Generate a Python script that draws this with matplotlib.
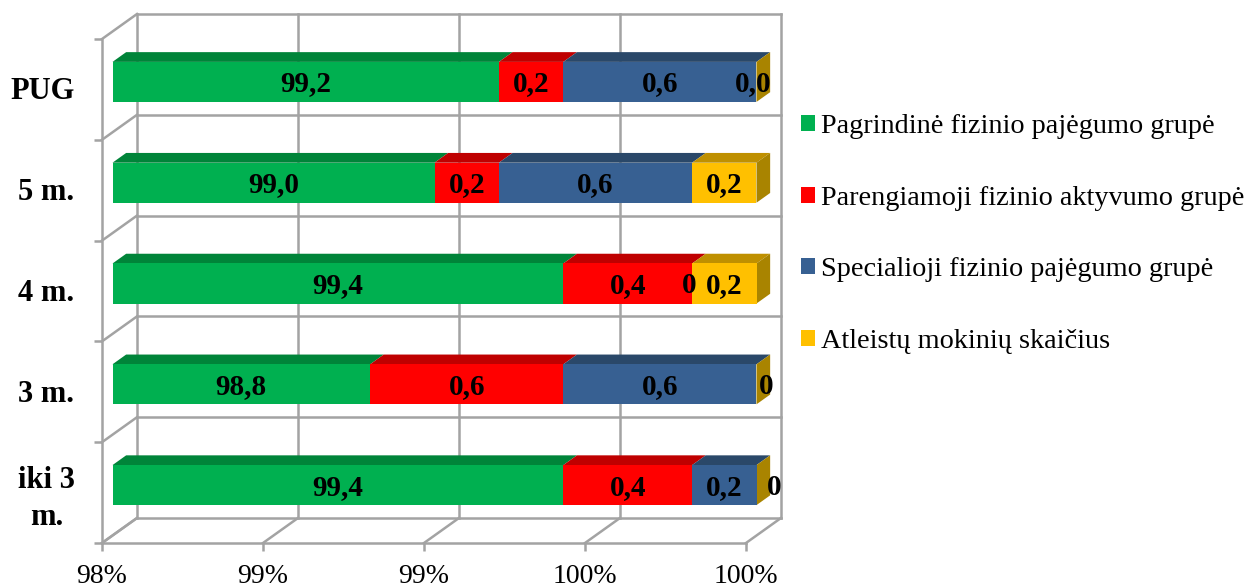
import matplotlib
matplotlib.use("Agg")
import matplotlib.pyplot as plt
from matplotlib.patches import Patch, Polygon
from matplotlib.transforms import Affine2D, IdentityTransform

plt.rcParams['font.family'] = ['Liberation Serif', 'DejaVu Sans']

categories = ['iki 3\nm.', '3 m.', '4 m.', '5 m.', 'PUG']
pagrindine = [99.4, 98.8, 99.4, 99.0, 99.2]
parengiamoji = [0.4, 0.6, 0.4, 0.2, 0.2]
specialioji = [0.2, 0.6, 0.0, 0.6, 0.6]
atleistu = [0.0, 0.0, 0.2, 0.2, 0.0]
series = [pagrindine, parengiamoji, specialioji, atleistu]
series_names = ['Pagrindinė fizinio pajėgumo grupė', 'Parengiamoji fizinio aktyvumo grupė',
                'Specialioji fizinio pajėgumo grupė', 'Atleistų mokinių skaičius']
colors = ['#00B050', '#FF0000', '#376092', '#FFC000']
top_colors = ['#008439', '#BF0000', '#2A4869', '#BF9000']
side_color = '#A98400'
x_ticks = [98, 98.5, 99, 99.5, 100]
x_labels = ['98%', '99%', '99%', '100%', '100%']
# printed labels, some of the zero ones sit off centre in the original
bar_labels = [['99,4', '0,4', '0,2', '0'],
              ['98,8', '0,6', '0,6', '0'],
              ['99,4', '0,4', '0', '0,2'],
              ['99,0', '0,2', '0,6', '0,2'],
              ['99,2', '0,2', '0,6', '0,0']]
label_shift = {(0, 3): 18, (1, 3): 10, (2, 2): -3, (4, 3): -3}

W, H = 1246, 587
DEPTH_X, DEPTH_Y = 35, 25
FRONT, BACK = 0.30, 0.69
GRID = '#A3A3A3'
BAR_H = 0.397
X_MIN = 98

fig = plt.figure(figsize=(W / 100, H / 100), dpi=100)
ax = fig.add_axes([102 / W, (H - 543) / H, 644 / W, 504 / H])
ax.set_xlim(X_MIN, 100)
ax.set_ylim(-0.5, 4.5)
ax.patch.set_visible(False)
ax.autoscale(False)


def project(x, y, depth):
    px, py = ax.transData.transform((x, y))
    return px + depth * DEPTH_X, py + depth * DEPTH_Y


def wall_line(a, b):
    ax.plot([a[0], b[0]], [a[1], b[1]], color=GRID, lw=1.8, transform=IdentityTransform(),
            clip_on=False, zorder=1, solid_capstyle='projecting')


def face(points, color, z):
    ax.add_patch(Polygon(points, closed=True, facecolor=color, edgecolor='none',
                         transform=IdentityTransform(), clip_on=False, zorder=z))


# walls
for v in x_ticks:
    wall_line(project(v, -0.5, 1), project(v, 4.5, 1))
    wall_line(project(v, -0.5, 0), project(v, -0.5, 1))
for b in [i - 0.5 for i in range(len(categories) + 1)]:
    wall_line(project(98, b, 1), project(100, b, 1))
    wall_line(project(98, b, 0), project(98, b, 1))

# stacked bars, the value axis starts at 98 so only the part above it shows
front_shift = Affine2D().translate(FRONT * DEPTH_X, FRONT * DEPTH_Y)
bar_trans = ax.transData + front_shift
for i in range(len(categories)):
    total = 0
    for s, values in enumerate(series):
        left = max(total, X_MIN)
        total += values[i]
        val = total - left
        if val > 0:
            ax.barh(i, val, left=left, height=BAR_H, color=colors[s], transform=bar_trans,
                    clip_on=False, zorder=3)
            y_top = i + BAR_H / 2
            face([project(left, y_top, FRONT), project(left + val, y_top, FRONT),
                  project(left + val, y_top, BACK), project(left, y_top, BACK)], top_colors[s], 2.5)
        ax.annotate(bar_labels[i][s], xy=(left + val / 2, i), xycoords=bar_trans,
                    xytext=(label_shift.get((i, s), 0) * 0.72, -1.5), textcoords='offset points',
                    ha='center', va='center', fontsize=21, fontweight='bold', color='black', zorder=5)
    y_top, y_bot = i + BAR_H / 2, i - BAR_H / 2
    face([project(total, y_bot, FRONT), project(total, y_top, FRONT),
          project(total, y_top, BACK), project(total, y_bot, BACK)], side_color, 2.5)

# axes
for side in ['top', 'right']:
    ax.spines[side].set_visible(False)
for side in ['left', 'bottom']:
    ax.spines[side].set_color(GRID)
    ax.spines[side].set_linewidth(1.8)
ax.set_xticks(x_ticks)
ax.set_xticklabels(x_labels, fontsize=20)
ax.set_yticks([i - 0.5 for i in range(len(categories) + 1)])
ax.set_yticklabels([])
ax.set_yticks(range(len(categories)), minor=True)
ax.set_yticklabels(categories, minor=True, fontsize=22, fontweight='bold', ha='center', linespacing=1.35)
ax.tick_params(axis='both', which='major', color=GRID, length=6, width=1.8)
ax.tick_params(axis='x', pad=9)
ax.tick_params(axis='y', which='minor', length=0, pad=40)
for lab in ax.get_yticklabels(minor=True):
    dx = -4 if lab.get_text() == 'PUG' else 0
    lab.set_transform(lab.get_transform() + Affine2D().translate(dx, 1))

handles = [Patch(facecolor=c, edgecolor='none') for c in colors]
fig.legend(handles, series_names, loc='upper left', bbox_to_anchor=(801 / W, 1 - 114 / H),
           frameon=False, fontsize=20.3, handlelength=0.5, handleheight=0.5,
           handletextpad=0.21, labelspacing=1.653, borderpad=0, borderaxespad=0)

fig.savefig('out.png', dpi=100)
